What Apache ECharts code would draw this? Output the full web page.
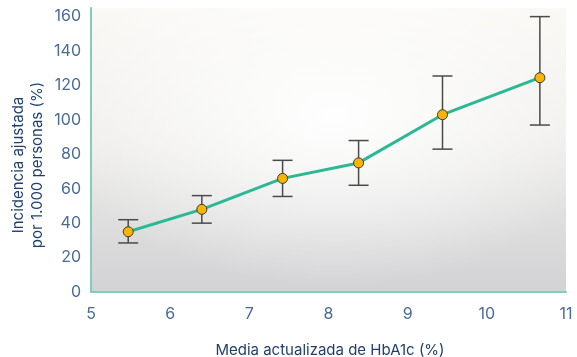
<!DOCTYPE html>
<html>
<head>
<meta charset="utf-8">
<script src="https://cdn.jsdelivr.net/npm/echarts@6/dist/echarts.min.js"></script>
<style>
  html, body { margin: 0; padding: 0; background: #fff; }
  #chart { width: 577px; height: 357px; }
</style>
</head>
<body>
<div id="chart"></div>
<script>
// HbA1c media actualizada (%) and incidence per 1.000 persons
const hba1c = [5.47, 6.40, 7.42, 8.38, 9.44, 10.67];
const incidence = [35, 48, 66, 75, 103, 124.5];
const lower = [28.5, 40, 55.5, 62, 83, 97];
const upper = [42, 56, 76.5, 88, 125.5, 160];
const xTicks = [5, 6, 7, 8, 9, 10, 11];

const labelColor = "#4a6b93";
const nameColor = "#1f3f6e";
const axisColor = "#7fd0b9";

const chart = echarts.init(document.getElementById("chart"));

chart.setOption({
  animation: false,
  grid: {
    left: 91,
    right: 11,
    top: 8,
    bottom: 65,
    show: true,
    borderWidth: 0,
    backgroundColor: {
      type: "linear",
      x: 0, y: 0, x2: 0, y2: 1,
      colorStops: [
        { offset: 0, color: "#faf9f6" },
        { offset: 0.45, color: "#efeeeb" },
        { offset: 0.85, color: "#d9d9da" },
        { offset: 1, color: "#d3d3d6" }
      ]
    }
  },
  xAxis: {
    type: "value",
    min: 5,
    max: 11,
    interval: 1,
    axisLine: { show: true, lineStyle: { color: axisColor, width: 2 } },
    axisTick: { show: false },
    splitLine: { show: false },
    axisLabel: {
      color: labelColor,
      fontSize: 16,
      fontFamily: "Inter",
      margin: 14,
      formatter: v => (xTicks.includes(v) ? String(v) : "")
    }
  },
  yAxis: {
    type: "value",
    min: 0,
    max: 165,
    interval: 20,
    axisLine: { show: true, lineStyle: { color: axisColor, width: 2 } },
    axisTick: { show: false },
    splitLine: { show: false },
    axisLabel: {
      color: labelColor,
      fontSize: 16,
      fontFamily: "Inter",
      margin: 10,
      showMaxLabel: false
    }
  },
  graphic: [
    {
      // soft light glow in the middle of the plot
      type: "rect",
      z: 1,
      silent: true,
      x: 92,
      y: 8,
      scaleY: 283 / 474,
      shape: { x: 0, y: 0, width: 474, height: 474 },
      style: {
        fill: {
          type: "radial",
          x: 0.51,
          y: 0.38,
          r: 0.6,
          colorStops: [
            { offset: 0, color: "rgba(255,255,255,0.95)" },
            { offset: 0.5, color: "rgba(255,255,255,0.5)" },
            { offset: 1, color: "rgba(255,255,255,0)" }
          ]
        }
      }
    },
    {
      type: "text",
      x: 28,
      y: 165,
      rotation: Math.PI / 2,
      style: {
        text: "Incidencia ajustada\npor 1.000 personas (%)",
        fill: nameColor,
        font: "15px Inter",
        align: "center",
        verticalAlign: "middle",
        lineHeight: 19
      }
    },
    {
      type: "text",
      x: 330,
      y: 350,
      style: {
        text: "Media actualizada de HbA1c (%)",
        fill: nameColor,
        font: "15px Inter",
        align: "center",
        verticalAlign: "middle"
      }
    }
  ],
  series: [
    {
      type: "custom",
      z: 2,
      data: hba1c.map((x, i) => [x, lower[i], upper[i]]),
      renderItem: (params, api) => {
        const lo = api.coord([api.value(0), api.value(1)]);
        const hi = api.coord([api.value(0), api.value(2)]);
        const half = 10;
        const style = { stroke: "#4a4a4a", lineWidth: 1.5 };
        return {
          type: "group",
          children: [
            { type: "line", shape: { x1: hi[0], y1: hi[1], x2: lo[0], y2: lo[1] }, style },
            { type: "line", shape: { x1: hi[0] - half, y1: hi[1], x2: hi[0] + half, y2: hi[1] }, style },
            { type: "line", shape: { x1: lo[0] - half, y1: lo[1], x2: lo[0] + half, y2: lo[1] }, style }
          ]
        };
      }
    },
    {
      type: "line",
      z: 3,
      data: hba1c.map((x, i) => [x, incidence[i]]),
      lineStyle: { color: "#2bb893", width: 3 },
      symbol: "circle",
      symbolSize: 10,
      itemStyle: { color: "#f7b500", borderColor: "#3a3a3a", borderWidth: 1 }
    }
  ]
});
</script>
</body>
</html>
